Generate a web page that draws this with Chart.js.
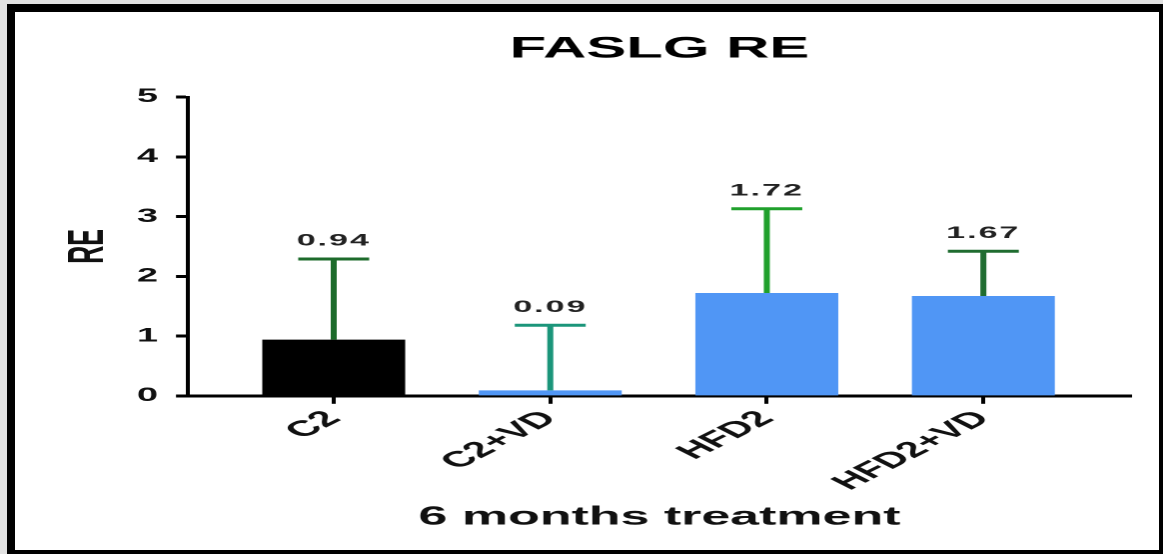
<!DOCTYPE html>
<html>
<head>
<meta charset="utf-8">
<script src="https://cdn.jsdelivr.net/npm/chart.js@4.4.1/dist/chart.umd.min.js"></script>
<style>
html,body{margin:0;padding:0;width:1163px;height:554px;overflow:hidden;background:#e2e2e2;}
#frame{position:absolute;left:7px;top:4px;width:1160px;height:554px;box-sizing:border-box;border:8px solid #000;background:#fff;}
#wrap{position:absolute;left:0;top:0;width:582px;height:554px;transform:scaleX(1.99828);transform-origin:0 0;}
</style>
</head>
<body>
<div id="frame"></div>
<div id="wrap"><canvas id="c"></canvas></div>
<script>
const TITLE = 'FASLG RE';
const X_TITLE = '6 months treatment';
const Y_TITLE = 'RE';
const categories = ['C2', 'C2+VD', 'HFD2', 'HFD2+VD'];
const meanValues = [0.94, 0.09, 1.72, 1.67];
const sdValues = [1.35, 1.09, 1.41, 0.75];
const valueLabels = ['0.94', '0.09', '1.72', '1.67'];
const yTickValues = [0, 1, 2, 3, 4, 5];
const barColors = ['#000000', '#5096f5', '#5096f5', '#5096f5'];
const errorColors = ['#1d6b2b', '#1b957a', '#20a02c', '#1f6c30'];

const FONT = "'Liberation Sans', Arial, sans-serif";
Chart.defaults.font.family = FONT;
Chart.defaults.color = '#111';

const errorBarPlugin = {
  id: 'errorBars',
  afterDatasetsDraw(chart) {
    const ctx = chart.ctx;
    const xs = chart.scales.x, ys = chart.scales.y;
    ctx.save();
    categories.forEach((c, i) => {
      const x = xs.getPixelForValue(i);
      const yBar = ys.getPixelForValue(meanValues[i]);
      const yTop = ys.getPixelForValue(meanValues[i] + sdValues[i]);
      ctx.strokeStyle = errorColors[i];
      ctx.lineWidth = 3;
      ctx.lineCap = 'butt';
      ctx.beginPath();
      ctx.moveTo(x, yBar);
      ctx.lineTo(x, yTop);
      ctx.moveTo(x - 17.75, yTop);
      ctx.lineTo(x + 17.75, yTop);
      ctx.stroke();
      ctx.fillStyle = '#222';
      ctx.font = 'bold 17px ' + FONT;
      try { ctx.letterSpacing = '1px'; } catch (e) {}
      ctx.textAlign = 'center';
      ctx.textBaseline = 'middle';
      ctx.fillText(valueLabels[i], x, yTop - 18);
    });
    ctx.restore();
  }
};

new Chart(document.getElementById('c'), {
  type: 'bar',
  data: {
    datasets: [{
      data: categories.map((c, i) => ({ x: i, y: meanValues[i] })),
      backgroundColor: barColors,
      borderWidth: 0,
      barPercentage: 0.66,
      categoryPercentage: 1
    }]
  },
  options: {
    responsive: true,
    maintainAspectRatio: false,
    animation: false,
    devicePixelRatio: 2,
    layout: { padding: { left: 8, right: 16, top: 0, bottom: 10 } },
    plugins: {
      legend: { display: false },
      tooltip: { enabled: false },
      title: {
        display: true,
        text: TITLE,
        fullSize: false,
        color: '#000',
        font: { size: 30, weight: 'bold' },
        padding: { top: 31, bottom: 30 }
      }
    },
    scales: {
      x: {
        type: 'linear',
        offset: false,
        min: -0.673,
        max: 3.682,
        afterBuildTicks(scale) { scale.ticks = categories.map((c, i) => ({ value: i })); },
        ticks: {
          autoSkip: false,
          minRotation: 45,
          maxRotation: 45,
          padding: 2,
          color: '#111',
          font: { size: 22, weight: 'bold' },
          callback: (v) => categories[v]
        },
        grid: { display: true, offset: false, drawOnChartArea: false, drawTicks: true, tickLength: 8, tickWidth: 2, tickColor: '#000' },
        border: { display: true, color: '#000', width: 3 },
        title: {
          display: true,
          text: X_TITLE,
          color: '#111',
          font: { size: 26, weight: 'bold' },
          padding: { top: 4, bottom: 11 }
        }
      },
      y: {
        min: 0,
        max: 5,
        afterBuildTicks(scale) { scale.ticks = yTickValues.map(v => ({ value: v })); },
        ticks: {
          padding: 9,
          color: '#111',
          font: { size: 19, weight: 'bold' }
        },
        grid: { display: true, drawOnChartArea: false, drawTicks: true, tickLength: 6, tickWidth: 3, tickColor: '#000' },
        border: { display: true, color: '#000', width: 2 },
        title: {
          display: true,
          text: Y_TITLE,
          color: '#111',
          font: { size: 25, weight: 'bold' },
          padding: { top: 21.5, bottom: 0 }
        }
      }
    }
  },
  plugins: [errorBarPlugin]
});
</script>
</body>
</html>
